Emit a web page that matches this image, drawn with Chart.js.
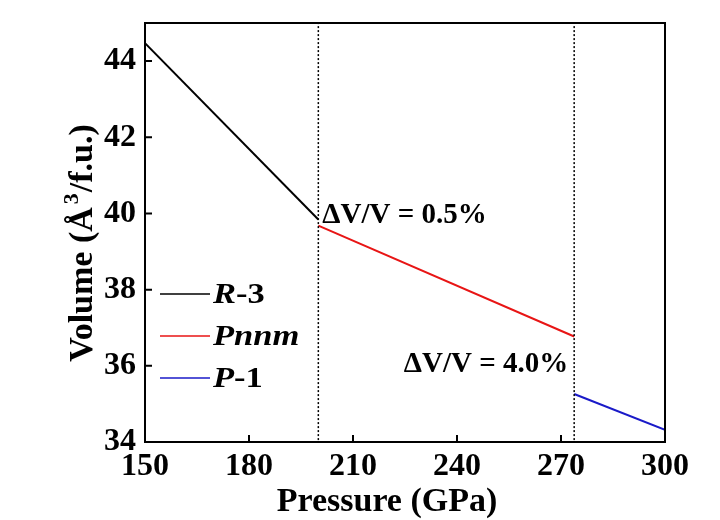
<!DOCTYPE html>
<html>
<head>
<meta charset="utf-8">
<script src="https://cdn.jsdelivr.net/npm/chart.js@4.4.1/dist/chart.umd.min.js"></script>
<style>
  html, body { margin: 0; padding: 0; background: #fff; }
  #chart-volume { display: block; }
</style>
</head>
<body>
<canvas id="chart-volume" width="720" height="520"></canvas>
<script>
// data
const pressureR3 = [150, 200];
const volumeR3 = [44.47, 39.84];
const pressurePnnm = [200, 273.8];
const volumePnnm = [39.68, 36.77];
const pressureP1 = [273.8, 300];
const volumeP1 = [35.26, 34.32];

const transitionP = [200, 273.8];
const deltaLabels = ['ΔV/V = 0.5%', 'ΔV/V = 4.0%'];

const xTicks = [150, 180, 210, 240, 270, 300];
const yTicks = [34, 36, 38, 40, 42, 44];

// legend: italic part + upright part
const phaseItalic = ['R', 'Pnnm', 'P'];
const phaseRest = ['-3', '', '-1'];
const phaseColors = ['#000000', '#e81515', '#1a1ac8'];

const xTitle = 'Pressure (GPa)';
const yTitleParts = ['Volume (Å', '3', '/f.u.)'];

const serif = "'Liberation Serif', 'Times New Roman', serif";

const toPoints = (xs, ys) => xs.map((x, i) => ({ x: x, y: ys[i] }));

// extras: frame, inward ticks, titles, legend and jump labels
const extrasPlugin = {
  id: 'extras',
  afterDraw(chart) {
    const ctx = chart.ctx;
    const area = chart.chartArea;
    const xs = chart.scales.x;
    const ys = chart.scales.y;
    ctx.save();

    ctx.strokeStyle = '#000';
    ctx.lineWidth = 2;
    ctx.strokeRect(area.left, area.top, area.right - area.left, area.bottom - area.top);

    // inward tick marks
    ctx.beginPath();
    xTicks.forEach(v => {
      const px = xs.getPixelForValue(v);
      ctx.moveTo(px, area.bottom);
      ctx.lineTo(px, area.bottom - 7);
    });
    yTicks.forEach(v => {
      const py = ys.getPixelForValue(v);
      ctx.moveTo(area.left, py);
      ctx.lineTo(area.left + 7, py);
    });
    ctx.stroke();

    ctx.fillStyle = '#000';

    // axis titles
    ctx.font = 'bold 34px ' + serif;
    ctx.textAlign = 'center';
    ctx.textBaseline = 'alphabetic';
    ctx.fillText(xTitle, 387, 511);

    ctx.save();
    ctx.translate(92, 243);
    ctx.rotate(-Math.PI / 2);
    ctx.textAlign = 'left';
    const big = 'bold 34px ' + serif;
    const small = 'bold 22px ' + serif;
    ctx.font = big;
    const w0 = ctx.measureText(yTitleParts[0]).width;
    const w2 = ctx.measureText(yTitleParts[2]).width;
    ctx.font = small;
    const w1 = ctx.measureText(yTitleParts[1]).width + 4;
    let tx = -(w0 + w1 + w2) / 2;
    ctx.font = big;
    ctx.fillText(yTitleParts[0], tx, 0);
    tx += w0;
    ctx.font = small;
    ctx.fillText(yTitleParts[1], tx + 3, -14);
    tx += w1;
    ctx.font = big;
    ctx.fillText(yTitleParts[2], tx, 0);
    ctx.restore();

    // legend
    ctx.textBaseline = 'middle';
    ctx.textAlign = 'left';
    phaseItalic.forEach((name, i) => {
      const y = area.top + 271 + i * 42;
      const x0 = area.left + 15;
      ctx.strokeStyle = phaseColors[i];
      ctx.lineWidth = 1.5;
      ctx.beginPath();
      ctx.moveTo(x0, y);
      ctx.lineTo(x0 + 50, y);
      ctx.stroke();
      ctx.save();
      ctx.translate(x0 + 53, y + 1);
      ctx.scale(1.15, 1);
      ctx.font = 'italic bold 30px ' + serif;
      ctx.fillText(name, 0, 0);
      const w = ctx.measureText(name).width;
      ctx.font = 'bold 30px ' + serif;
      ctx.fillText(phaseRest[i], w, 0);
      ctx.restore();
    });

    // volume jump labels
    ctx.font = 'bold 29px ' + serif;
    ctx.textAlign = 'left';
    ctx.fillText(deltaLabels[0], xs.getPixelForValue(transitionP[0]) + 4, ys.getPixelForValue(39.95));
    ctx.textAlign = 'right';
    ctx.fillText(deltaLabels[1], xs.getPixelForValue(transitionP[1]) - 6,
      ys.getPixelForValue((volumePnnm[1] + volumeP1[0]) / 2) - 1);

    ctx.restore();
  }
};

const lineSet = (label, pts, color) => ({
  label: label,
  data: pts,
  showLine: true,
  borderColor: color,
  borderWidth: 2,
  pointRadius: 0,
  tension: 0,
  fill: false
});

const dottedSets = transitionP.map(p => ({
  label: 'transition',
  data: [{ x: p, y: 34.05 }, { x: p, y: 45 }],
  showLine: true,
  borderColor: '#000',
  borderWidth: 1.5,
  borderDash: [2, 2],
  pointRadius: 0,
  fill: false
}));

const ctx = document.getElementById('chart-volume').getContext('2d');

new Chart(ctx, {
  type: 'scatter',
  data: {
    datasets: [
      ...dottedSets,
      lineSet('R-3', toPoints(pressureR3, volumeR3), phaseColors[0]),
      lineSet('Pnnm', toPoints(pressurePnnm, volumePnnm), phaseColors[1]),
      lineSet('P-1', toPoints(pressureP1, volumeP1), phaseColors[2])
    ]
  },
  options: {
    responsive: false,
    animation: false,
    layout: { padding: { top: 23, right: 55, left: 0, bottom: 0 } },
    plugins: {
      legend: { display: false },
      tooltip: { enabled: false }
    },
    scales: {
      x: {
        type: 'linear',
        min: 150,
        max: 300,
        afterBuildTicks: s => { s.ticks = xTicks.map(v => ({ value: v })); },
        afterFit: s => { s.height = 78; s.paddingLeft = 0; s.paddingRight = 0; },
        grid: { display: false, drawTicks: false },
        border: { display: false },
        ticks: {
          color: '#000',
          padding: 6,
          maxRotation: 0,
          font: { family: serif, size: 32, weight: 'bold' }
        }
      },
      y: {
        type: 'linear',
        min: 34,
        max: 45,
        afterBuildTicks: s => { s.ticks = yTicks.map(v => ({ value: v })); },
        afterFit: s => { s.width = 145; s.paddingTop = 0; s.paddingBottom = 0; },
        grid: { display: false, drawTicks: false },
        border: { display: false },
        ticks: {
          color: '#000',
          padding: 9,
          font: { family: serif, size: 32, weight: 'bold' }
        }
      }
    }
  },
  plugins: [extrasPlugin]
});
</script>
</body>
</html>
